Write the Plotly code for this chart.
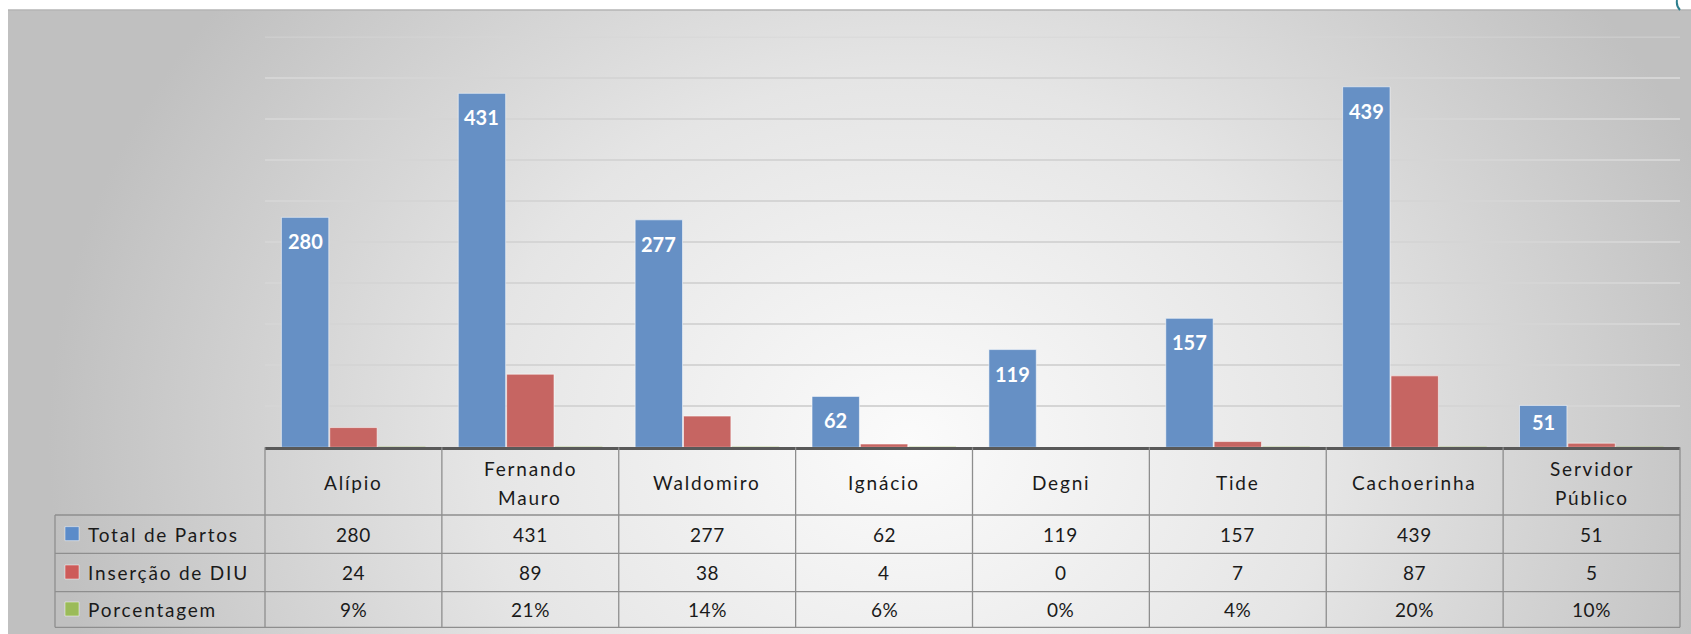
import base64
import plotly.graph_objects as go

# ---- data ----
unidades = ["Alípio", "Fernando Mauro", "Waldomiro", "Ignácio", "Degni",
            "Tide", "Cachoerinha", "Servidor Público"]
total_partos = [280, 431, 277, 62, 119, 157, 439, 51]
insercao_diu = [24, 89, 38, 4, 0, 7, 87, 5]
porcentagem = [9, 21, 14, 6, 0, 4, 20, 10]          # percent
series_names = ["Total de Partos", "Inserção de DIU", "Porcentagem"]
y_ticks = [0, 50, 100, 150, 200, 250, 300, 350, 400, 450, 500]

# ---- canvas / layout geometry (pixels) ----
W, H = 1691, 634
PL, PR, PT, PB = 265, 1680, 36.7, 447.3        # plot area
TBL_LEFT = 55                                  # legend column of the table
ROW_Y = [PB, 515, 553.3, 591.7, 627.3]         # table row borders
BARGAP, GROUPGAP = 0.18, 0.02

BLUE, RED, GREEN = "#6690C5", "#C66562", "#9BBB59"
KEY_COLORS = ["#5B8BC9", "#CD5B59", "#9BBB59"]
FONT = "Lato"
GRID = "#D5D5D5"


def px(x):
    return x / W


def py(y):
    return 1 - y / H


def spaced(t, sp=1.8):
    return f"<span style='letter-spacing:{sp}px'>{t}</span>"


# soft grey radial background of the chart area
bw, bh = W - 8, H - 10
cx, cy = 900, 432
svg = (
    f"<svg xmlns='http://www.w3.org/2000/svg' width='{bw}' height='{bh}' "
    f"viewBox='0 0 {bw} {bh}' preserveAspectRatio='none'>"
    f"<defs><radialGradient id='g' gradientUnits='userSpaceOnUse' cx='{cx}' cy='{cy}' r='860' "
    f"gradientTransform='translate({cx} {cy}) scale(1 0.85) translate({-cx} {-cy})'>"
    "<stop offset='0' stop-color='#FBFBFB'/>"
    "<stop offset='0.5' stop-color='#E5E5E5'/>"
    "<stop offset='1' stop-color='#C0C0C0'/>"
    "</radialGradient></defs>"
    f"<rect x='0' y='0' width='{bw}' height='{bh}' fill='url(#g)'/></svg>"
)
bg_uri = "data:image/svg+xml;base64," + base64.b64encode(svg.encode()).decode()

fig = go.Figure()

fig.add_trace(go.Bar(name=series_names[0], x=unidades, y=total_partos,
                     marker=dict(color=BLUE, line=dict(color="rgba(255,255,255,0.55)", width=1))))
fig.add_trace(go.Bar(name=series_names[1], x=unidades, y=insercao_diu,
                     marker=dict(color=RED, line=dict(color="rgba(255,255,255,0.55)", width=1))))
fig.add_trace(go.Bar(name=series_names[2], x=unidades, y=[p / 100 for p in porcentagem],
                     marker=dict(color=GREEN, line=dict(width=0)),
                     customdata=porcentagem, hovertemplate="%{x}: %{customdata}%<extra></extra>"))

# value labels inside the top of the blue bars
slot_px = (PR - PL) / len(unidades)
bar_slot = (1 - BARGAP) / 3
blue_shift = -bar_slot * slot_px
unit_px = (PB - PT) / y_ticks[-1]
annotations = []
for name, v in zip(unidades, total_partos):
    annotations.append(dict(
        x=name, y=v, xref="x", yref="y", text=f"<b>{v}</b>", showarrow=False,
        xshift=blue_shift, yshift=-min(24, v * unit_px - 25), yanchor="middle",
        font=dict(family=FONT, size=20, color="white")))

shapes = []
# top gridline at the upper end of the value range
shapes.append(dict(type="line", xref="x domain", yref="y", x0=0, x1=1,
                   y0=y_ticks[-1], y1=y_ticks[-1], line=dict(color=GRID, width=1.5),
                   layer="below"))

# ---- data table under the chart ----
line_style = dict(color="#8E8E8E", width=1.3)
col_edges = [PL + k * slot_px for k in range(len(unidades) + 1)]
for xe in col_edges:
    shapes.append(dict(type="line", xref="paper", yref="paper", x0=px(xe), x1=px(xe),
                       y0=py(ROW_Y[0]), y1=py(ROW_Y[-1]), line=line_style))
for yr in ROW_Y[1:]:
    shapes.append(dict(type="line", xref="paper", yref="paper", x0=px(TBL_LEFT), x1=px(PR),
                       y0=py(yr), y1=py(yr), line=line_style))
shapes.append(dict(type="line", xref="paper", yref="paper", x0=px(TBL_LEFT), x1=px(TBL_LEFT),
                   y0=py(ROW_Y[1]), y1=py(ROW_Y[-1]), line=line_style))

table_font = dict(family=FONT, size=19, color="#1A1A1A")

# header row: unit names
hdr_mid = (ROW_Y[0] + ROW_Y[1]) / 2 + 1.5
for i, name in enumerate(unidades):
    xc = (col_edges[i] + col_edges[i + 1]) / 2
    lines = name.split(" ")
    for j, ln in enumerate(lines):
        yc = hdr_mid + (j - (len(lines) - 1) / 2) * 29
        annotations.append(dict(x=px(xc), y=py(yc), xref="paper", yref="paper", text=spaced(ln),
                                showarrow=False, xanchor="center", yanchor="middle",
                                font=table_font))

# data rows
row_values = [
    [str(v) for v in total_partos],
    [str(v) for v in insercao_diu],
    [f"{v}%" for v in porcentagem],
]
for r, (label, vals, kc) in enumerate(zip(series_names, row_values, KEY_COLORS)):
    yc = (ROW_Y[r + 1] + ROW_Y[r + 2]) / 2
    shapes.append(dict(type="rect", xref="paper", yref="paper",
                       x0=px(65), x1=px(79), y0=py(yc - 7.5), y1=py(yc + 6.5),
                       fillcolor=kc, line=dict(color="rgba(255,255,255,0.6)", width=0.8)))
    annotations.append(dict(x=px(86), y=py(yc), xref="paper", yref="paper", text=spaced(label),
                            showarrow=False, xanchor="left", yanchor="middle", font=table_font))
    for i, t in enumerate(vals):
        xc = (col_edges[i] + col_edges[i + 1]) / 2
        annotations.append(dict(x=px(xc), y=py(yc), xref="paper", yref="paper",
                                text=spaced(t, 0.6), showarrow=False, xanchor="center",
                                yanchor="middle", font=table_font))

# top edge of the chart frame and corner ornament
shapes.append(dict(type="line", xref="paper", yref="paper", x0=px(8), x1=1,
                   y0=py(10), y1=py(10), line=dict(color="#B4B4B4", width=1.5)))
shapes.append(dict(type="path", xref="paper", yref="paper",
                   path=f"M {px(1677)},{py(0)} Q {px(1676)},{py(6)} {px(1680)},{py(10)}",
                   line=dict(color="#2D7F8E", width=2)))

fig.update_layout(
    width=W, height=H,
    margin=dict(l=0, r=0, t=0, b=0),
    paper_bgcolor="white", plot_bgcolor="rgba(0,0,0,0)",
    barmode="group", bargap=BARGAP, bargroupgap=GROUPGAP,
    showlegend=False,
    xaxis=dict(domain=[px(PL), px(PR)], type="category", range=[-0.5, len(unidades) - 0.5],
               showticklabels=False, ticks="", showgrid=False, zeroline=False,
               showline=True, linecolor="#595959", linewidth=2.5),
    yaxis=dict(domain=[py(PB), py(PT)], range=[y_ticks[0], y_ticks[-1]], tickvals=y_ticks,
               showticklabels=False, ticks="", showgrid=True, gridcolor=GRID,
               gridwidth=1.5, zeroline=False, showline=False),
    images=[dict(source=bg_uri, xref="paper", yref="paper", x=px(8), y=py(10),
                 sizex=bw / W, sizey=bh / H, xanchor="left", yanchor="top",
                 sizing="stretch", layer="below")],
    shapes=shapes,
    annotations=annotations,
)

fig.write_html("out.html")
